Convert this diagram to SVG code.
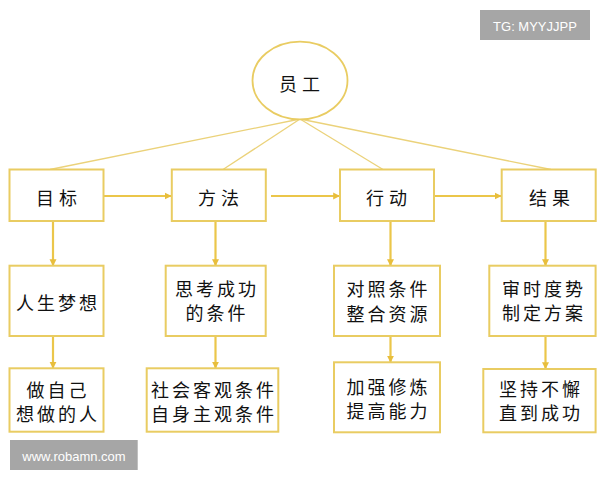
<svg xmlns="http://www.w3.org/2000/svg" width="600" height="480" viewBox="0 0 600 480">
<defs>
<style>
.box{fill:#fff;stroke:#E9CC62;stroke-width:2}
.ell{fill:#fff;stroke:#E9CC62;stroke-width:1.8}
.thin{stroke:#EBD27A;stroke-width:1.3;fill:none}
.arr{stroke:#EBC64A;stroke-width:2.2;fill:none;marker-end:url(#ah)}
.t{font-family:"Noto Sans CJK SC","Noto Sans CJK JP",sans-serif;font-size:18px;fill:#111;text-anchor:middle;dominant-baseline:central;letter-spacing:3px}
.h{font-size:18px;letter-spacing:5px}
.wm{fill:#A6A6A6}
.wt{font-family:"Liberation Sans",Arial,sans-serif;font-size:13px;fill:#fff;text-anchor:middle;dominant-baseline:central}
</style>
<marker id="ah" viewBox="0 0 10 10" refX="9" refY="5" markerWidth="3.2" markerHeight="3.2" orient="auto" markerUnits="strokeWidth">
<path d="M0,0 L10,5 L0,10 Z" fill="#E8BE3C"/>
</marker>
</defs>
<rect width="600" height="480" fill="#fff"/>
<g id="connectors">
<line class="thin" x1="300" y1="119" x2="50" y2="169.5"/>
<line class="thin" x1="300" y1="119" x2="223" y2="169.5"/>
<line class="thin" x1="300" y1="119" x2="383" y2="169.5"/>
<line class="thin" x1="300" y1="119" x2="551" y2="169.5"/>
<line class="arr" x1="104" y1="196" x2="171" y2="196"/>
<line class="arr" x1="271" y1="196" x2="339.5" y2="196"/>
<line class="arr" x1="435" y1="196" x2="501" y2="196"/>
<line class="arr" x1="53" y1="221" x2="53" y2="265.5"/>
<line class="arr" x1="215.5" y1="221" x2="215.5" y2="265.5"/>
<line class="arr" x1="390.5" y1="221" x2="390.5" y2="265.5"/>
<line class="arr" x1="545.5" y1="221" x2="545.5" y2="265.5"/>
<line class="arr" x1="53" y1="336" x2="53" y2="368"/>
<line class="arr" x1="215.5" y1="336" x2="215.5" y2="368"/>
<line class="arr" x1="390.5" y1="336" x2="390.5" y2="362"/>
<line class="arr" x1="545.5" y1="336" x2="545.5" y2="368.5"/>
</g>
<g id="n-yuangong">
<ellipse class="ell" cx="300" cy="80.5" rx="47.5" ry="38.8"/>
<text class="t h" x="302" y="83">员工</text>
</g>
<g id="n-mubiao">
<rect class="box" x="9.5" y="169.5" width="94" height="51.5"/>
<text class="t h" x="59" y="196.5">目标</text>
</g>
<g id="n-fangfa">
<rect class="box" x="171.8" y="169.5" width="94" height="51.5"/>
<text class="t h" x="221" y="196.5">方法</text>
</g>
<g id="n-xingdong">
<rect class="box" x="340" y="169.5" width="94" height="51.5"/>
<text class="t h" x="389" y="196.5">行动</text>
</g>
<g id="n-jieguo">
<rect class="box" x="501.7" y="169.5" width="94" height="51.5"/>
<text class="t h" x="552" y="196.5">结果</text>
</g>
<g id="n-rensheng">
<rect class="box" x="9.5" y="265.7" width="94" height="70.3"/>
<text class="t" x="58" y="301.5">人生梦想</text>
</g>
<g id="n-sikao">
<rect class="box" x="165.7" y="265.7" width="100" height="70.3"/>
<text class="t" x="217" y="288">思考成功</text>
<text class="t" x="217" y="312">的条件</text>
</g>
<g id="n-duizhao">
<rect class="box" x="334" y="265.7" width="106" height="70.3"/>
<text class="t" x="388.5" y="288">对照条件</text>
<text class="t" x="388.5" y="312.5">整合资源</text>
</g>
<g id="n-shenshi">
<rect class="box" x="489.3" y="265.7" width="106.3" height="70.3"/>
<text class="t" x="544" y="288">审时度势</text>
<text class="t" x="544" y="312">制定方案</text>
</g>
<g id="n-zuoziji">
<rect class="box" x="9.5" y="368.3" width="94" height="63.4"/>
<text class="t" x="58" y="389">做自己</text>
<text class="t" x="58" y="413">想做的人</text>
</g>
<g id="n-shehui">
<rect class="box" x="146.7" y="368.3" width="131.6" height="63.4"/>
<text class="t" x="214" y="389">社会客观条件</text>
<text class="t" x="214" y="413">自身主观条件</text>
</g>
<g id="n-jiaqiang">
<rect class="box" x="334" y="362.3" width="106" height="70"/>
<text class="t" x="388.5" y="386">加强修炼</text>
<text class="t" x="388.5" y="410">提高能力</text>
</g>
<g id="n-jianchi">
<rect class="box" x="483.3" y="369" width="112.3" height="63.3"/>
<text class="t" x="541" y="388">坚持不懈</text>
<text class="t" x="541" y="412">直到成功</text>
</g>
<g id="watermarks">
<rect class="wm" x="480" y="10" width="110" height="30"/>
<text class="wt" x="535" y="26">TG: MYYJJPP</text>
<rect class="wm" x="10" y="440" width="127.7" height="30"/>
<text class="wt" x="74" y="456">www.robamn.com</text>
</g>
</svg>
